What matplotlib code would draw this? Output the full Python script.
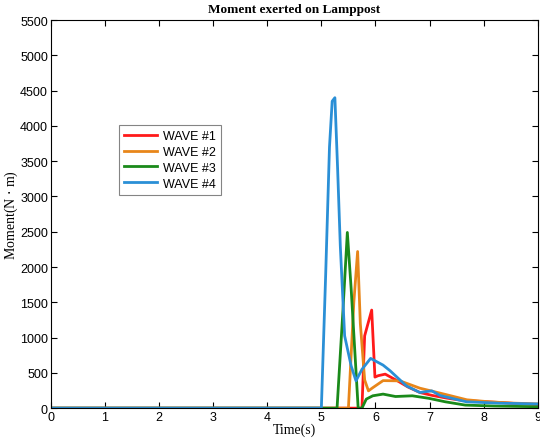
import numpy as np
import matplotlib
matplotlib.use("Agg")
import matplotlib.pyplot as plt

# valores (tiempo en s, momento en N*m)
t1 = [0, 5.75, 5.80, 5.93, 5.99, 6.05, 6.18, 6.40, 6.60, 6.82, 7.05, 7.32, 7.60, 7.94, 8.30, 8.60, 9.0]
m1 = [0, 0, 1025, 1390, 440, 460, 482, 390, 300, 222, 180, 142, 110, 95, 80, 65, 50]

t2 = [0, 5.50, 5.60, 5.67, 5.72, 5.80, 5.87, 5.95, 6.14, 6.45, 6.82, 7.05, 7.32, 7.69, 8.10, 8.55, 9.0]
m2 = [0, 0, 1500, 2220, 1200, 400, 245, 290, 390, 387, 283, 240, 189, 118, 90, 71, 60]

t3 = [0, 5.29, 5.40, 5.48, 5.55, 5.68, 5.75, 5.83, 5.95, 6.14, 6.37, 6.68, 6.98, 7.29, 7.66, 8.20, 9.0]
m3 = [0, 0, 1400, 2490, 1700, 0, 0, 128, 175, 199, 165, 175, 140, 90, 43, 30, 20]

t4 = [0, 5.00, 5.08, 5.15, 5.20, 5.25, 5.30, 5.35, 5.43, 5.55, 5.64, 5.75, 5.91, 6.14, 6.27, 6.57, 6.82, 7.04, 7.19, 7.68, 8.30, 9.0]
m4 = [0, 0, 1900, 3700, 4350, 4400, 3400, 2300, 1025, 600, 387, 550, 705, 610, 530, 316, 222, 245, 180, 90, 70, 60]

nombres = ["WAVE #1", "WAVE #2", "WAVE #3", "WAVE #4"]
colores = ["#ff1a1a", "#e8861a", "#1a8a1a", "#2a8fd6"]

fig = plt.figure(figsize=(5.4, 4.39), dpi=100)
ax = fig.add_axes([0.094, 0.068, 0.902, 0.884])

for t, m, n, c in zip([t1, t2, t3, t4], [m1, m2, m3, m4], nombres, colores):
    ax.plot(t, m, color=c, lw=2, label=n)

ax.set_xlim(0, 9)
ax.set_ylim(0, 5500)
ax.set_xticks(np.arange(0, 10, 1))
ax.set_yticks(np.arange(0, 5501, 500))
ax.tick_params(direction="in", top=True, right=True, labelsize=9, length=4, pad=2)
for lab in ax.get_xticklabels() + ax.get_yticklabels():
    lab.set_family("Liberation Sans")

ax.set_title("Moment exerted on Lamppost", family="Liberation Serif",
             fontweight="bold", fontsize=9.5)
ax.set_xlabel("Time(s)", family="Liberation Serif", fontsize=10, labelpad=0)
ax.set_ylabel("Moment(N $\\cdot$ m)", family="Liberation Serif", fontsize=10, labelpad=0)

leg = ax.legend(loc="upper left", bbox_to_anchor=(0.128, 0.745), fancybox=False,
                prop={"family": "Liberation Sans", "size": 9}, handlelength=2.6,
                borderpad=0.4, labelspacing=0.3, handletextpad=0.5)
leg.get_frame().set_edgecolor("#666666")
leg.get_frame().set_linewidth(0.8)

plt.savefig("out.png", dpi=100)
